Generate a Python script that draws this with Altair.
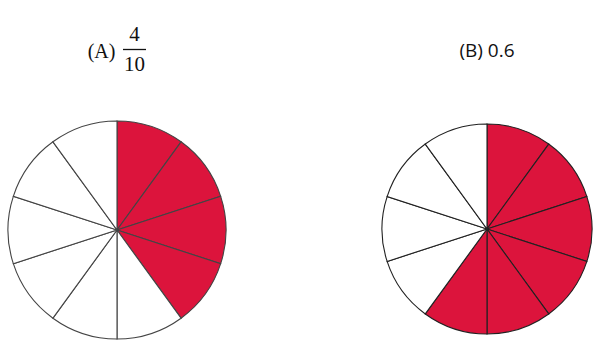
import altair as alt
import pandas as pd

# Ten equal slices per circle; 1 = shaded, 0 = blank, listed clockwise from 12 o'clock
slice_ids = [1, 2, 3, 4, 5, 6, 7, 8, 9, 10]
shaded_a = [1, 1, 1, 1, 0, 0, 0, 0, 0, 0]
shaded_b = [1, 1, 1, 1, 1, 1, 0, 0, 0, 0]
slice_size = [1, 1, 1, 1, 1, 1, 1, 1, 1, 1]

label_a_prefix = "(A)"
label_a_num = "4"
label_a_den = "10"
label_b = "(B) 0.6"

RED = "#DC143C"

def pie_frame(shaded):
    return pd.DataFrame({"slice": slice_ids, "size": slice_size,
                         "shaded": ["yes" if s else "no" for s in shaded]})

def pie(df, cx, cy, r, stroke):
    return alt.Chart(df).mark_arc(stroke=stroke, strokeWidth=1.1, radius=r).encode(
        theta=alt.Theta("size:Q", stack=True),
        order=alt.Order("slice:Q", sort="ascending"),
        color=alt.Color("shaded:N",
                        scale=alt.Scale(domain=["yes", "no"], range=[RED, "#ffffff"]),
                        legend=None),
        x=alt.value(cx),
        y=alt.value(cy),
    )

pie_a = pie(pie_frame(shaded_a), 117, 230, 109, "#444444")
pie_b = pie(pie_frame(shaded_b), 487, 229, 105, "#222222")

def text(s, x, y, size, font, align="center"):
    return alt.Chart(pd.DataFrame({"t": [s]})).mark_text(
        font=font, fontSize=size, color="#111111", align=align, baseline="middle"
    ).encode(text="t:N", x=alt.value(x), y=alt.value(y))

serif = "Liberation Serif"
t_prefix = text(label_a_prefix, 101.5, 52, 20, serif)
t_num = text(label_a_num, 134.5, 35, 21, serif)
t_den = text(label_a_den, 134.5, 64.5, 21, serif)
frac_bar = alt.Chart(pd.DataFrame({"k": [0]})).mark_rule(
    color="#111111", strokeWidth=1.3
).encode(x=alt.value(123), x2=alt.value(146), y=alt.value(49.5))
t_b = text(label_b, 487, 51, 19, "Open Sans")

chart = alt.layer(pie_a, pie_b, t_prefix, t_num, t_den, frac_bar, t_b).properties(
    width=601, height=346, padding=0, autosize=alt.AutoSizeParams(type="none")
).configure_view(stroke=None)

chart.save("out.html", embed_options={"renderer": "svg", "actions": False})
